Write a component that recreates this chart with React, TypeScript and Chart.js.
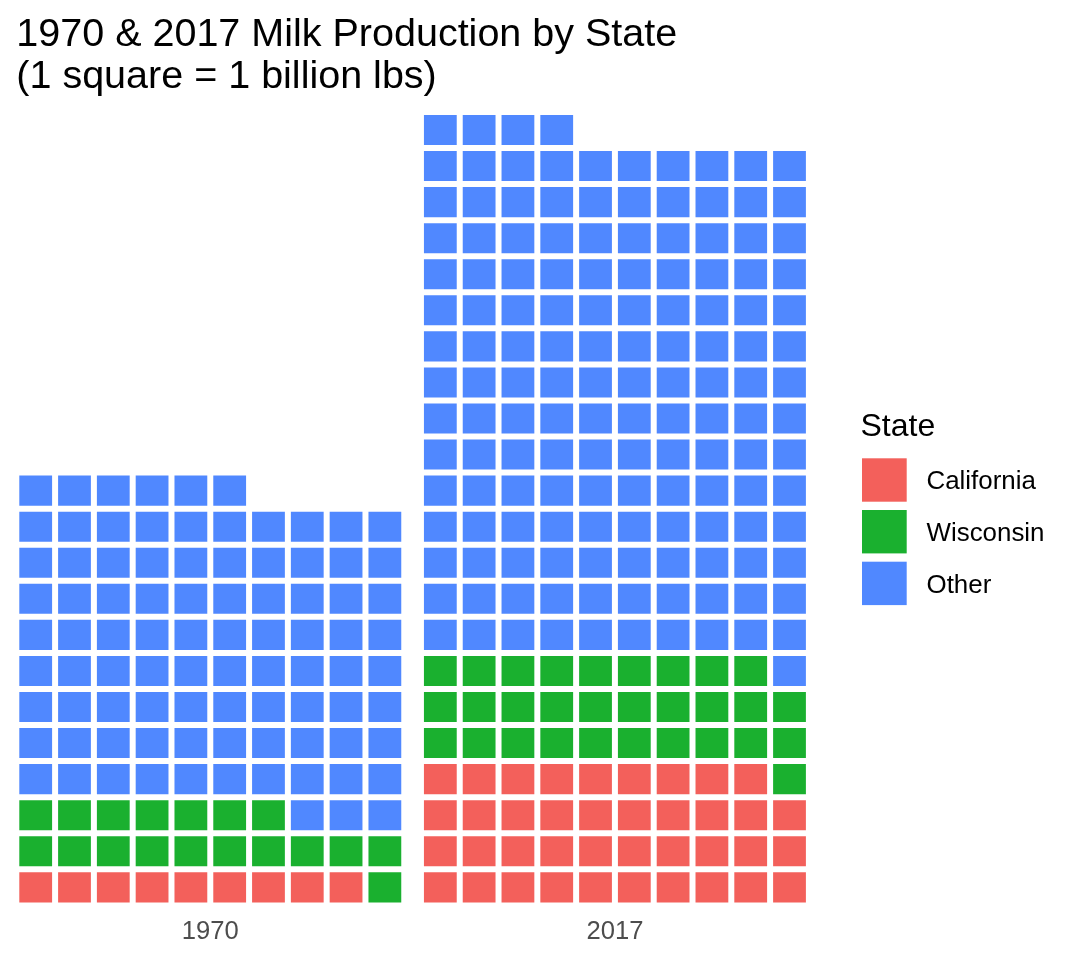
import React, { useEffect, useRef } from "react";
import { Chart, registerables } from "chart.js";

Chart.register(...registerables);

// ---- data ----
const years = ["1970", "2017"];
const states = ["California", "Wisconsin", "Other"];
const california = [9, 39];
const wisconsin = [18, 30];
const other = [89, 145];
const stateColors = ["#F3605B", "#1AB02F", "#5088FF"];
const titleLines = ["1970 & 2017 Milk Production by State", "(1 square = 1 billion lbs)"];
const legendTitle = "State";
const perRow = 10;

// ---- layout ----
const PANEL_OFFSET = 10.43; // x-offset (in cell units) of the second panel
const FONT = "'Liberation Sans', Arial, Helvetica, sans-serif";

type Cell = { x: number; color: string };

function buildRows(): Cell[][] {
  const rows: Cell[][] = [];
  years.forEach((_, p) => {
    const counts = [california[p], wisconsin[p], other[p]];
    let k = 0;
    counts.forEach((n, s) => {
      for (let i = 0; i < n; i++, k++) {
        const r = Math.floor(k / perRow);
        const c = k % perRow;
        if (!rows[r]) rows[r] = [];
        rows[r].push({ x: p * PANEL_OFFSET + c, color: stateColors[s] });
      }
    });
  });
  return rows;
}

const legendPlugin = {
  id: "waffleLegend",
  afterDraw(chart: any) {
    const ctx = chart.ctx as CanvasRenderingContext2D;
    ctx.save();
    ctx.fillStyle = "#000";
    ctx.textAlign = "left";
    ctx.textBaseline = "alphabetic";
    ctx.font = `32px ${FONT}`;
    ctx.fillText(legendTitle, 860.5, 435.5);
    const boxX = 862;
    const boxW = 44.7;
    const boxH = 43.4;
    const firstTop = 458.3;
    const pitch = 51.7;
    ctx.font = `25.9px ${FONT}`;
    ctx.textBaseline = "middle";
    states.forEach((s, i) => {
      const top = firstTop + i * pitch;
      ctx.fillStyle = stateColors[i];
      ctx.fillRect(boxX, top, boxW, boxH);
      ctx.fillStyle = "#000";
      ctx.fillText(s, 926.5, top + boxH / 2 + 2);
    });
    ctx.restore();
  },
};

export default function App() {
  const ref = useRef<HTMLCanvasElement | null>(null);

  useEffect(() => {
    if (!ref.current) return;
    const rows = buildRows();
    const datasets = rows.map((row, r) => ({
      label: `row ${r + 1}`,
      data: row.map((c) => ({ x: c.x, y: 1 })),
      backgroundColor: row.map((c) => c.color),
      borderColor: "#ffffff",
      borderWidth: 3,
      borderSkipped: false as const,
      inflateAmount: 0,
      barPercentage: 1,
      categoryPercentage: 1,
    }));
    const panelCenters = years.map((_, p) => p * PANEL_OFFSET + (perRow - 1) / 2);

    const chart = new Chart(ref.current, {
      type: "bar",
      data: { datasets },
      options: {
        animation: false,
        responsive: false,
        events: [],
        layout: { padding: { left: 16.3, right: 271.1, top: 0, bottom: 13.9 } },
        plugins: {
          legend: { display: false },
          tooltip: { enabled: false },
          title: {
            display: true,
            text: titleLines,
            align: "start",
            color: "#000",
            font: { family: FONT, size: 39.5, weight: "normal", lineHeight: 1.07 },
            padding: { top: 14.2, bottom: 13.2 },
          },
        },
        scales: {
          x: {
            type: "linear",
            stacked: true,
            offset: false,
            min: -0.5,
            max: PANEL_OFFSET + perRow - 0.5,
            grid: { display: false, drawTicks: false, offset: false },
            border: { display: false },
            afterBuildTicks: (scale: any) => {
              scale.ticks = panelCenters.map((v) => ({ value: v }));
            },
            ticks: {
              autoSkip: false,
              maxRotation: 0,
              padding: 11,
              color: "#4D4D4D",
              font: { family: FONT, size: 25.6 },
              callback: (_v: any, i: number) => years[i],
            },
          },
          y: {
            display: false,
            stacked: true,
            min: 0,
            max: rows.length,
          },
        },
      },
      plugins: [legendPlugin],
    });
    return () => chart.destroy();
  }, []);

  return (
    <div style={{ position: "fixed", left: 0, top: 0, width: 1080, height: 972, background: "#fff" }}>
      <canvas ref={ref} width={1080} height={972} style={{ display: "block" }} />
    </div>
  );
}
